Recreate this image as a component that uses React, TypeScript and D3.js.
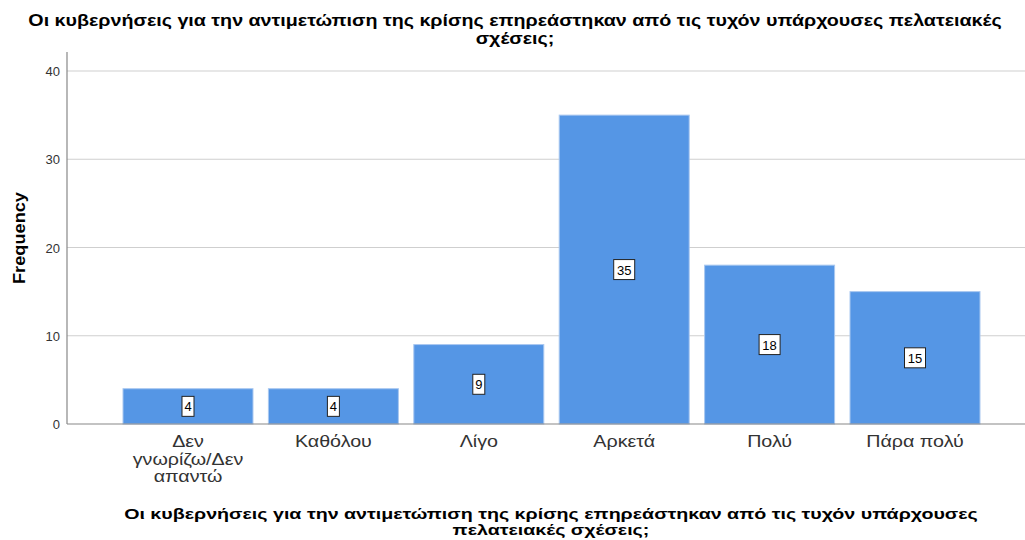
import React from "react";
import * as d3 from "d3";

const categories = ["Δεν γνωρίζω/Δεν απαντώ", "Καθόλου", "Λίγο", "Αρκετά", "Πολύ", "Πάρα πολύ"];
const categoryLines = [["Δεν", "γνωρίζω/Δεν", "απαντώ"], ["Καθόλου"], ["Λίγο"], ["Αρκετά"], ["Πολύ"], ["Πάρα πολύ"]];
const values = [4, 4, 9, 35, 18, 15];
const yTicks = [0, 10, 20, 30, 40];
const titleLines = ["Οι κυβερνήσεις για την αντιμετώπιση της κρίσης επηρεάστηκαν από τις τυχόν υπάρχουσες πελατειακές", "σχέσεις;"];
const xTitleLines = ["Οι κυβερνήσεις για την αντιμετώπιση της κρίσης επηρεάστηκαν από τις τυχόν υπάρχουσες", "πελατειακές σχέσεις;"];
const yTitle = "Frequency";

export default function App() {
  const W = 1025, H = 540;
  const left = 67, right = 1025, bottom = 424, top = 52;
  const x = d3.scaleBand<string>().domain(categories).range([123, 980]).paddingInner(0.106).paddingOuter(0);
  const y = d3.scaleLinear().domain([0, 40]).range([bottom, 71]);
  const font = "'Liberation Sans', Arial, sans-serif";
  const H1 = (props: { x: number; y: number; size: number; sx: number; bold?: boolean; fill: string; children: string }) => (
    <text transform={`translate(${props.x},${props.y}) scale(${props.sx},1)`} textAnchor="middle" fontSize={props.size} fontWeight={props.bold ? "bold" : "normal"} fill={props.fill}>{props.children}</text>
  );
  return (
    <svg width={W} height={H} style={{ position: "absolute", left: 0, top: 0, background: "#fff" }} fontFamily={font}>
      {titleLines.map((t, i) => (
        <H1 key={i} x={515} y={26 + i * 18} size={16} sx={1.23} bold fill="#000">{t}</H1>
      ))}
      {yTicks.filter(t => t > 0).map(t => (
        <line key={t} x1={left} x2={right} y1={y(t)} y2={y(t)} stroke="#cfcfcf" strokeWidth={1.2} />
      ))}
      {values.map((v, i) => {
        const bx = x(categories[i])!;
        const bw = x.bandwidth();
        const by = y(v);
        const cy = y(v / 2);
        const label = String(v);
        const lw = label.length * 9 + 3;
        return (
          <g key={i}>
            <rect x={bx} y={by} width={bw} height={bottom - by} fill="#5596E5" stroke="#a9c8f0" strokeWidth={1} />
            <rect x={bx + bw / 2 - lw / 2} y={cy - 10} width={lw} height={20} fill="#fff" stroke="#222" strokeWidth={1} />
            <text x={bx + bw / 2} y={cy + 5} textAnchor="middle" fontSize={13} fill="#000">{label}</text>
          </g>
        );
      })}
      <line x1={left} x2={left} y1={top} y2={bottom} stroke="#888" strokeWidth={1.2} />
      <line x1={left} x2={right} y1={bottom} y2={bottom} stroke="#888" strokeWidth={1.2} />
      {yTicks.map(t => (
        <text key={t} x={60} y={y(t) + 5} textAnchor="end" fontSize={13} fill="#333">{t}</text>
      ))}
      <text transform={`translate(25,238) rotate(-90)`} textAnchor="middle" fontSize={16} fontWeight="bold" fill="#000" textLength={92} lengthAdjust="spacingAndGlyphs">{yTitle}</text>
      {categoryLines.map((lines, i) => (
        <g key={i}>
          {lines.map((l, j) => (
            <H1 key={j} x={x(categories[i])! + x.bandwidth() / 2} y={447 + j * 17.5} size={16} sx={1.23} fill="#333">{l}</H1>
          ))}
        </g>
      ))}
      {xTitleLines.map((t, i) => (
        <H1 key={i} x={551} y={519 + i * 16} size={15} sx={1.31} bold fill="#000">{t}</H1>
      ))}
    </svg>
  );
}
